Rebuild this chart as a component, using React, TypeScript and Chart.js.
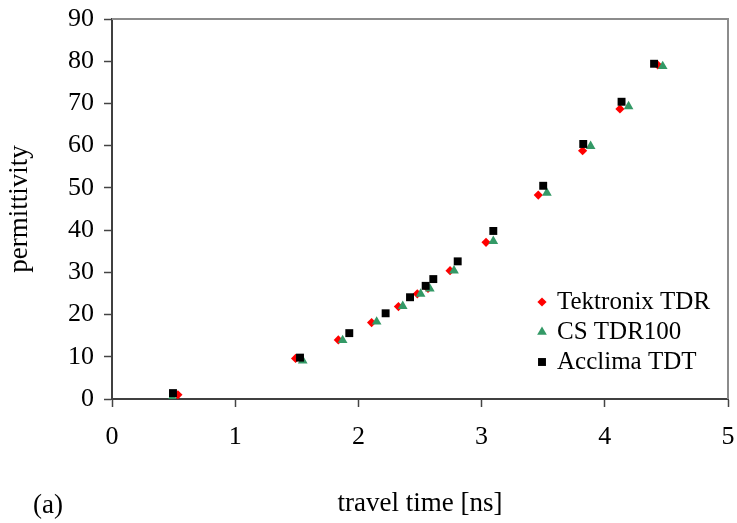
import { useEffect, useRef } from 'react';
import { Chart, registerables } from 'chart.js';

Chart.register(...registerables);

// travel time [ns], permittivity
const tektronixX = [0.535, 1.49, 1.837, 2.107, 2.325, 2.478, 2.565, 2.744, 3.036, 3.46, 3.82, 4.123, 4.43];
const tektronixY = [1.0, 9.6, 14.0, 18.1, 21.9, 24.9, 26.2, 30.4, 37.1, 48.3, 58.8, 68.7, 79.1];

const csX = [0.49, 1.548, 1.872, 2.148, 2.36, 2.505, 2.58, 2.776, 3.095, 3.53, 3.885, 4.193, 4.47];
const csY = [0.4, 9.1, 13.9, 18.3, 22.0, 24.9, 26.1, 30.4, 37.4, 48.8, 59.9, 69.3, 78.8];

const acclimaX = [0.495, 1.526, 1.926, 2.221, 2.419, 2.546, 2.608, 2.806, 3.095, 3.5, 3.825, 4.136, 4.4];
const acclimaY = [1.4, 9.8, 15.6, 20.3, 24.1, 26.8, 28.4, 32.6, 39.8, 50.5, 60.4, 70.4, 79.4];

const seriesLabels = ['Tektronix TDR', 'CS TDR100', 'Acclima TDT'];
const seriesColors = ['#FF0000', '#339966', '#000000'];
const seriesStyles = ['rectRot', 'triangle', 'rect'];
const seriesRadius = [4.6, 5.6, 5.6];

const xTitle = 'travel time [ns]';
const yTitle = 'permittivity';
const panelLabel = '(a)';

const FONT = '"Liberation Serif", "Times New Roman", serif';

const toPoints = (xs: number[], ys: number[]) => xs.map((x, i) => ({ x, y: ys[i] }));

const framePlugin = {
  id: 'frame',
  afterDraw(chart: any) {
    const { ctx, chartArea } = chart;
    ctx.save();
    // top and right frame
    ctx.strokeStyle = '#8c8c8c';
    ctx.lineWidth = 2;
    ctx.beginPath();
    ctx.moveTo(chartArea.left, chartArea.top);
    ctx.lineTo(chartArea.right, chartArea.top);
    ctx.lineTo(chartArea.right, chartArea.bottom);
    ctx.stroke();

    // legend
    const mx = 542;
    const tx = 557;
    const rows = [302, 332, 362];
    ctx.font = `25px ${FONT}`;
    ctx.textBaseline = 'middle';
    ctx.textAlign = 'left';
    chart.data.datasets.forEach((ds: any, i: number) => {
      const y = rows[i];
      ctx.fillStyle = ds.pointBackgroundColor;
      ctx.beginPath();
      const r = ds.pointRadius;
      if (ds.pointStyle === 'rectRot') {
        ctx.moveTo(mx - r, y);
        ctx.lineTo(mx, y - r);
        ctx.lineTo(mx + r, y);
        ctx.lineTo(mx, y + r);
      } else if (ds.pointStyle === 'triangle') {
        ctx.moveTo(mx, y - r);
        ctx.lineTo(mx + r * Math.sin((2 * Math.PI) / 3), y + r / 2);
        ctx.lineTo(mx - r * Math.sin((2 * Math.PI) / 3), y + r / 2);
      } else {
        const s = r * Math.SQRT1_2;
        ctx.rect(mx - s, y - s, 2 * s, 2 * s);
      }
      ctx.closePath();
      ctx.fill();
      ctx.fillStyle = '#000';
      ctx.fillText(ds.label, tx, y);
    });

    // panel label
    ctx.font = `27px ${FONT}`;
    ctx.textAlign = 'center';
    ctx.textBaseline = 'alphabetic';
    ctx.fillStyle = '#000';
    ctx.fillText(panelLabel, 48, 513);
    ctx.restore();
  },
};

const clearPad = (s: any) => {
  s.paddingLeft = 0;
  s.paddingRight = 0;
  s.paddingTop = 0;
  s.paddingBottom = 0;
};

export default function App() {
  const ref = useRef<HTMLCanvasElement | null>(null);

  useEffect(() => {
    if (!ref.current) return;
    const data = [toPoints(tektronixX, tektronixY), toPoints(csX, csY), toPoints(acclimaX, acclimaY)];
    const chart = new Chart(ref.current, {
      type: 'scatter',
      data: {
        datasets: data.map((d, i) => ({
          label: seriesLabels[i],
          data: d,
          pointStyle: seriesStyles[i] as any,
          pointRadius: seriesRadius[i],
          pointHoverRadius: seriesRadius[i],
          pointBackgroundColor: seriesColors[i],
          pointBorderColor: seriesColors[i],
          pointBorderWidth: 0,
          showLine: false,
          order: 3 - i,
        })),
      },
      options: {
        animation: false,
        responsive: false,
        devicePixelRatio: 1,
        layout: { padding: { left: 0, right: 9, top: 19, bottom: 0 } },
        plugins: {
          legend: { display: false },
          tooltip: { enabled: false },
        },
        scales: {
          x: {
            type: 'linear',
            position: 'bottom',
            min: 0,
            max: 5,
            afterFit: (s: any) => {
              s.height = 124;
              clearPad(s);
            },
            ticks: {
              stepSize: 1,
              color: '#000',
              padding: 15,
              maxRotation: 0,
              font: { family: FONT, size: 26 },
            },
            grid: {
              drawOnChartArea: false,
              drawTicks: true,
              tickLength: 8,
              tickWidth: 1.5,
              tickColor: '#444',
            },
            border: { color: '#404040', width: 2 },
            title: {
              display: true,
              text: xTitle,
              color: '#000',
              font: { family: FONT, size: 27 },
              padding: { top: 0, bottom: 3 },
            },
          },
          y: {
            type: 'linear',
            position: 'left',
            min: 0,
            max: 90,
            afterFit: (s: any) => {
              s.width = 112;
              clearPad(s);
            },
            ticks: {
              stepSize: 10,
              color: '#000',
              padding: 10,
              font: { family: FONT, size: 26 },
            },
            grid: {
              drawOnChartArea: false,
              drawTicks: true,
              tickLength: 8,
              tickWidth: 1.5,
              tickColor: '#444',
            },
            border: { color: '#404040', width: 2 },
            title: {
              display: true,
              text: yTitle,
              color: '#000',
              font: { family: FONT, size: 27 },
              padding: { top: 4, bottom: 0 },
            },
          },
        },
      },
      plugins: [framePlugin],
    });
    return () => chart.destroy();
  }, []);

  return (
    <div style={{ position: 'absolute', left: 0, top: 0, width: 737, height: 523 }}>
      <canvas ref={ref} width={737} height={523} style={{ width: 737, height: 523 }} />
    </div>
  );
}
